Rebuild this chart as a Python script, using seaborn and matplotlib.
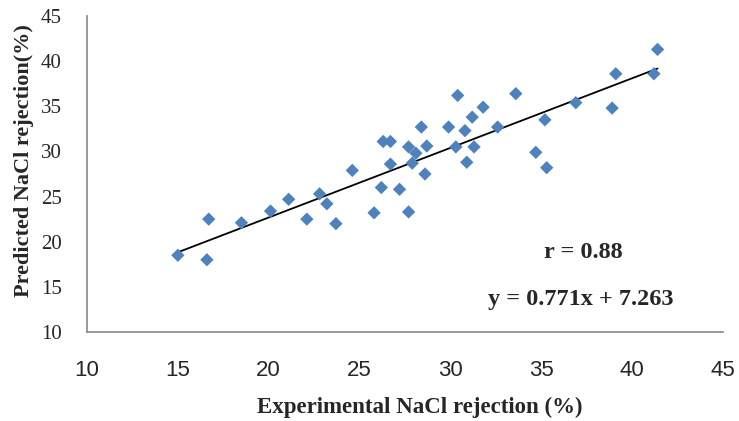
import numpy as np
import pandas as pd
import seaborn as sns
from matplotlib import pyplot as plt

# values
experimental = [15.0, 16.6, 16.7, 18.5, 20.1, 21.1, 22.1, 22.8, 23.2, 23.7,
                24.6, 25.8, 26.2, 26.3, 26.7, 26.7, 27.2, 27.7, 27.7, 27.9,
                28.1, 28.4, 28.7, 28.6, 29.9, 30.4, 30.3, 30.8, 30.9, 31.2,
                31.3, 31.8, 32.6, 33.6, 34.7, 35.2, 35.3, 36.9, 38.9, 39.1,
                41.2, 41.4]
predicted = [18.5, 18.0, 22.5, 22.1, 23.4, 24.7, 22.5, 25.3, 24.2, 22.0,
             27.9, 23.2, 26.0, 31.1, 31.1, 28.6, 25.8, 30.5, 23.3, 28.7,
             29.8, 32.7, 30.6, 27.5, 32.7, 36.2, 30.5, 32.3, 28.8, 33.8,
             30.5, 34.9, 32.7, 36.4, 29.9, 33.5, 28.2, 35.4, 34.8, 38.6,
             38.6, 41.3]
slope = 0.771
intercept = 7.263
r_value = 0.88

df = pd.DataFrame({'exp': experimental, 'pred': predicted})

sns.set_style('white')
plt.rcParams['font.family'] = ['Liberation Serif', 'DejaVu Serif']

fig = plt.figure(figsize=(7.39, 4.21), dpi=100)
ax = fig.add_axes([0.1177, 0.2114, 0.8606, 0.7506])

sns.scatterplot(data=df, x='exp', y='pred', marker='D', s=46,
                color='#4F81BD', edgecolor='none', ax=ax, zorder=3)

# linear trend line over the range of the data
xl = np.array([min(experimental), max(experimental)])
sns.lineplot(x=xl, y=slope * xl + intercept, color='black', lw=1.3, ax=ax,
             zorder=2)

ax.set_xlim(10, 45)
ax.set_ylim(10, 45)
ax.set_xticks(range(10, 50, 5))
ax.set_yticks(range(10, 50, 5))
ax.tick_params(length=0)
ax.tick_params(axis='x', pad=20)
ax.tick_params(axis='y', pad=18)
for lab in ax.get_xticklabels():
    lab.set_fontfamily('Liberation Sans')
    lab.set_fontsize(16)
for lab in ax.get_yticklabels():
    lab.set_fontfamily('Liberation Serif')
    lab.set_fontsize(15)

sns.despine(ax=ax)
for s in ['left', 'bottom']:
    ax.spines[s].set_color('#888888')
    ax.spines[s].set_linewidth(1.2)

ax.set_xlabel('Experimental NaCl rejection (%)', fontsize=16.5,
              fontweight='bold', va='top')
ax.set_ylabel('Predicted NaCl rejection(%)', fontsize=16,
              fontweight='bold')
ax.xaxis.set_label_coords(0.524, -0.205)
ax.yaxis.set_label_coords(-0.083, 0.544)

ax.text(37.3, 18.8, 'r = %.2f' % r_value, fontsize=17.5, fontweight='bold',
        ha='center', va='center')
ax.text(37.2, 13.6, 'y = %.3fx + %.3f' % (slope, intercept), fontsize=17.5,
        fontweight='bold', ha='center', va='center')

fig.savefig('out.png', dpi=100)
